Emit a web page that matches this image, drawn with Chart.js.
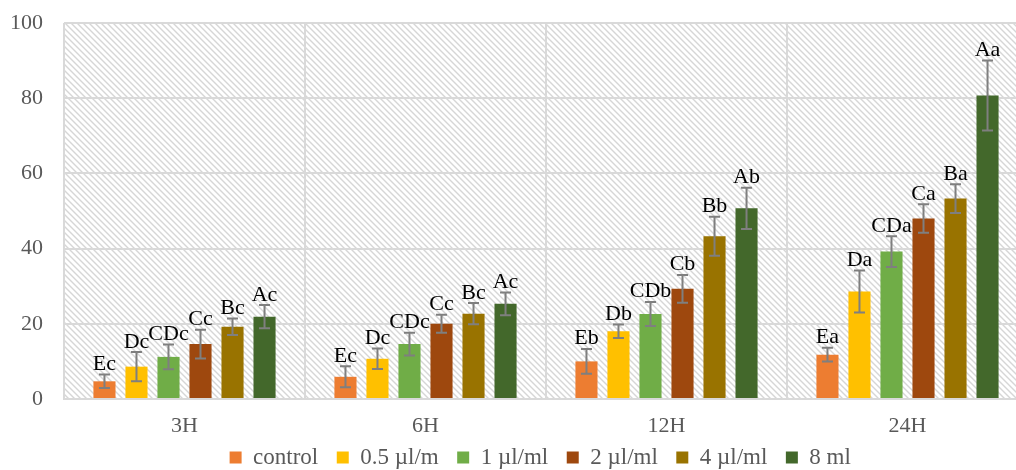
<!DOCTYPE html>
<html>
<head>
<meta charset="utf-8">
<script src="https://cdn.jsdelivr.net/npm/chart.js@4/dist/chart.umd.min.js"></script>
<style>
  html, body { margin: 0; padding: 0; background: #fff; overflow: hidden; }
  #wrap { position: relative; width: 1040px; height: 479px; }
</style>
</head>
<body>
<div id="wrap"><canvas id="chart"></canvas></div>
<script>
// Data
const categories = ['3H', '6H', '12H', '24H'];
const seriesNames = ['control', '0.5 µl/m', '1 µl/ml', '2 µl/ml', '4 µl/ml', '8 ml'];
const seriesColors = ['#ED7D31', '#FFC000', '#70AD47', '#9E480E', '#997300', '#43682B'];

const control = [4.7, 5.9, 10.0, 11.8];
const dose05 = [8.6, 10.7, 18.0, 28.6];
const dose1 = [11.2, 14.6, 22.6, 39.2];
const dose2 = [14.6, 20.0, 29.3, 48.0];
const dose4 = [19.2, 22.7, 43.3, 53.3];
const dose8 = [21.9, 25.3, 50.7, 80.7];

const errControl = [1.8, 2.8, 3.3, 1.8];
const err05 = [3.9, 2.7, 1.8, 5.6];
const err1 = [3.3, 3.0, 3.2, 4.1];
const err2 = [3.8, 2.4, 3.7, 3.8];
const err4 = [2.2, 2.8, 5.2, 3.8];
const err8 = [3.1, 3.0, 5.5, 9.3];

const lblControl = ['Ec', 'Ec', 'Eb', 'Ea'];
const lbl05 = ['Dc', 'Dc', 'Db', 'Da'];
const lbl1 = ['CDc', 'CDc', 'CDb', 'CDa'];
const lbl2 = ['Cc', 'Cc', 'Cb', 'Ca'];
const lbl4 = ['Bc', 'Bc', 'Bb', 'Ba'];
const lbl8 = ['Ac', 'Ac', 'Ab', 'Aa'];

const yTicks = [0, 20, 40, 60, 80, 100];

const values = [control, dose05, dose1, dose2, dose4, dose8];
const errors = [errControl, err05, err1, err2, err4, err8];
const letters = [lblControl, lbl05, lbl1, lbl2, lbl4, lbl8];

const FONT = '"Liberation Serif", "Times New Roman", serif';
const GRID = '#d9d9d9';
const TEXT = '#595959';

// diagonal hatch for the plot background
function makeHatch() {
  const c = document.createElement('canvas');
  c.width = 6;
  c.height = 6;
  const g = c.getContext('2d');
  g.strokeStyle = '#d6d6d6';
  g.lineWidth = 1.4;
  g.beginPath();
  g.moveTo(-1, -1); g.lineTo(7, 7);
  g.moveTo(-1, 5); g.lineTo(1, 7);
  g.moveTo(5, -1); g.lineTo(7, 1);
  g.stroke();
  return g.createPattern(c, 'repeat');
}

const hatchPlugin = {
  id: 'hatch',
  beforeDraw(chart) {
    const { ctx, chartArea: a } = chart;
    ctx.save();
    ctx.fillStyle = makeHatch();
    ctx.fillRect(a.left, a.top, a.right - a.left, a.bottom - a.top);
    ctx.restore();
  },
};

// error bars + letter labels
const errorPlugin = {
  id: 'errorBars',
  afterDatasetsDraw(chart) {
    const ctx = chart.ctx;
    const y = chart.scales.y;
    ctx.save();
    chart.data.datasets.forEach((ds, i) => {
      const meta = chart.getDatasetMeta(i);
      meta.data.forEach((bar, j) => {
        const v = values[i][j];
        const e = errors[i][j];
        const top = y.getPixelForValue(v + e);
        const bot = y.getPixelForValue(v - e);
        ctx.strokeStyle = '#7f7f7f';
        ctx.lineWidth = 2;
        ctx.beginPath();
        ctx.moveTo(bar.x, top); ctx.lineTo(bar.x, bot);
        ctx.moveTo(bar.x - 5.5, top); ctx.lineTo(bar.x + 5.5, top);
        ctx.moveTo(bar.x - 5.5, bot); ctx.lineTo(bar.x + 5.5, bot);
        ctx.stroke();

        ctx.fillStyle = '#000';
        ctx.font = '22px ' + FONT;
        ctx.textAlign = 'center';
        ctx.textBaseline = 'alphabetic';
        ctx.fillText(letters[i][j], bar.x, top - 4.5);
      });
    });
    ctx.restore();
  },
};

const chart = new Chart(document.getElementById('chart'), {
  type: 'bar',
  data: {
    labels: categories,
    datasets: seriesNames.map((name, i) => ({
      label: name,
      data: values[i],
      backgroundColor: seriesColors[i],
      categoryPercentage: 0.797,
      barPercentage: 0.69,
    })),
  },
  options: {
    responsive: true,
    maintainAspectRatio: false,
    animation: false,
    layout: { padding: { top: 23, left: 0, right: 12, bottom: 0 } },
    scales: {
      x: {
        grid: { color: GRID, lineWidth: 2, drawTicks: false, offset: true },
        border: { display: true, color: GRID, width: 2 },
        ticks: { color: TEXT, font: { family: FONT, size: 22 }, padding: 14 },
        afterFit: (s) => { s.height = 40; },
      },
      y: {
        min: 0,
        max: 100,
        afterBuildTicks: (s) => { s.ticks = yTicks.map((v) => ({ value: v })); },
        grid: { color: GRID, lineWidth: 2, drawTicks: false },
        border: { display: false },
        ticks: { color: TEXT, font: { family: FONT, size: 22 }, padding: 21 },
        afterFit: (s) => {
          s.width = 64;
          s.paddingTop = 0;
          s.paddingBottom = 0;
        },
      },
    },
    plugins: {
      legend: {
        position: 'bottom',
        fullSize: false,
        labels: {
          color: TEXT,
          font: { family: FONT, size: 23 },
          boxWidth: 12,
          boxHeight: 12,
          padding: 7,
          // trailing spaces widen the gap between entries
          generateLabels: (c) => Chart.defaults.plugins.legend.labels.generateLabels(c)
            .map((item) => ({ ...item, text: item.text + '  ' })),
        },
      },
      tooltip: { enabled: false },
    },
  },
  plugins: [hatchPlugin, errorPlugin],
});
</script>
</body>
</html>
